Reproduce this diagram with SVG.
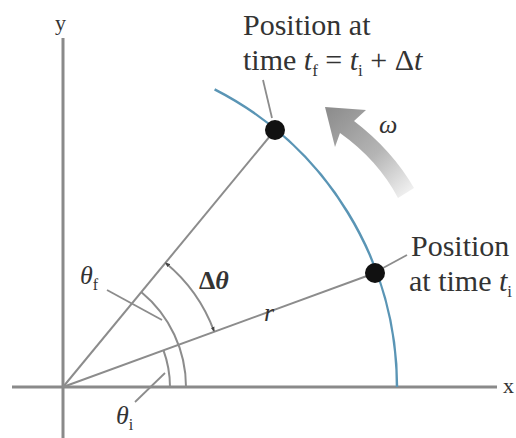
<svg xmlns="http://www.w3.org/2000/svg" width="516" height="438" viewBox="0 0 516 438">
<defs>
<style>
.axis{stroke:#8a8a8a;stroke-width:3;fill:none}
.ln{stroke:#8c8c8c;stroke-width:2;fill:none}
.arc{stroke:#8c8c8c;stroke-width:2;fill:none}
.blue{stroke:#5a95b5;stroke-width:2.5;fill:none}
.lead{stroke:#8c8c8c;stroke-width:1.8;fill:none}
.t{font-family:"Liberation Serif",serif;fill:#333;font-size:30px}
.it{font-style:italic}
.b{font-weight:bold}
.dot{fill:#111}
</style>
<marker id="ah" viewBox="0 0 10 10" refX="9" refY="5" markerWidth="5" markerHeight="5" orient="auto-start-reverse" markerUnits="userSpaceOnUse">
<path d="M0,1 L10,5 L0,9 Z" fill="#444"/>
</marker>
<linearGradient id="g" gradientUnits="userSpaceOnUse" x1="330" y1="110" x2="408" y2="195">
<stop offset="0" stop-color="#8e8e8e"/>
<stop offset="0.55" stop-color="#b5b5b5"/>
<stop offset="1" stop-color="#f2f2f2"/>
</linearGradient>
</defs>
<rect width="516" height="438" fill="#fff"/>
<g id="axes">
<line class="axis" x1="63" y1="38" x2="63" y2="438"/>
<line class="axis" x1="12" y1="387" x2="497" y2="387"/>
<text class="t" x="55" y="30" style="font-size:22px">y</text>
<text class="t" x="503" y="393" style="font-size:22px">x</text>
</g>
<g id="connectors">
<line class="ln" x1="63" y1="387" x2="275" y2="130"/>
<line class="ln" x1="63" y1="387" x2="375" y2="273"/>
<path class="blue" d="M214.6,89.4 A334,334 0 0 1 397,387"/>
<path class="arc" d="M186,387 A123,123 0 0 0 141.2,292.1"/>
<path class="arc" d="M170,387 A107,107 0 0 0 163.4,350.1"/>
<path class="arc" d="M165.4,262.8 A161,161 0 0 1 214.1,331.4" marker-start="url(#ah)" marker-end="url(#ah)"/>
<line class="lead" x1="263" y1="80" x2="272" y2="118"/>
<line class="lead" x1="383" y1="268" x2="407" y2="255"/>
<line class="lead" x1="107" y1="290" x2="162" y2="320"/>
<line class="lead" x1="135" y1="402" x2="165" y2="373"/>
</g>
<g id="omega-arrow">
<path d="M325,107 L366,110 L354,121 Q392,150 414,188 L398,198 Q378,160 340,133 L335,147 Z" fill="url(#g)"/>
<text class="t it" x="379" y="133" style="font-size:26px">ω</text>
</g>
<g id="pos-final">
<circle class="dot" cx="275" cy="130" r="10"/>
<text class="t" x="243" y="35">Position at</text>
<text class="t" x="243" y="70">time <tspan class="it">t</tspan><tspan dy="6" style="font-size:17px">f</tspan><tspan dy="-6"> = </tspan><tspan class="it">t</tspan><tspan dy="6" style="font-size:17px">i</tspan><tspan dy="-6"> + Δ</tspan><tspan class="it">t</tspan></text>
</g>
<g id="pos-initial">
<circle class="dot" cx="375" cy="273" r="10"/>
<text class="t" x="411" y="256">Position</text>
<text class="t" x="409" y="291">at time <tspan class="it">t</tspan><tspan dy="6" style="font-size:17px">i</tspan></text>
</g>
<g id="labels">
<text class="t it" x="80" y="284" style="font-size:26px">θ<tspan dy="6" style="font-size:16px;font-style:normal">f</tspan></text>
<text class="t it" x="116" y="424" style="font-size:26px">θ<tspan dy="6" style="font-size:16px;font-style:normal">i</tspan></text>
<text class="t b" x="199" y="289" style="font-size:26px">Δ<tspan class="it">θ</tspan></text>
<text class="t it" x="264" y="321" style="font-size:26px">r</text>
</g>
</svg>
